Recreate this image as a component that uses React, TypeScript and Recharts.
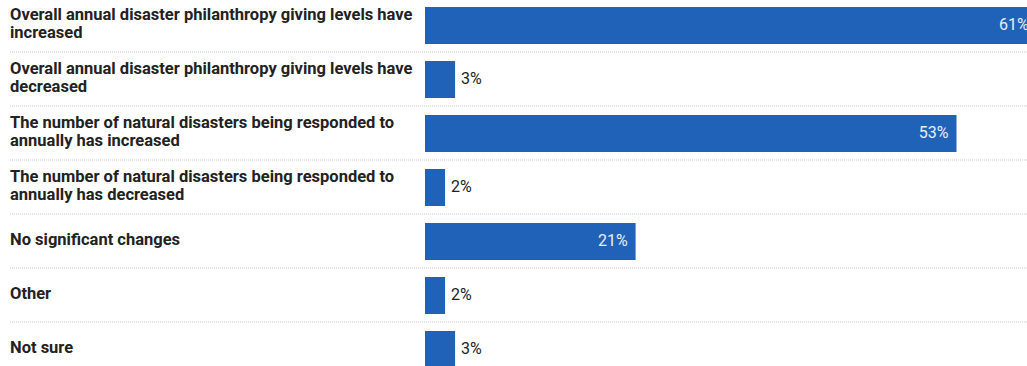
import { BarChart, Bar, XAxis, YAxis, LabelList } from 'recharts';

const categories = [
  'Overall annual disaster philanthropy giving levels have increased',
  'Overall annual disaster philanthropy giving levels have decreased',
  'The number of natural disasters being responded to annually has increased',
  'The number of natural disasters being responded to annually has decreased',
  'No significant changes',
  'Other',
  'Not sure',
];
const shares = [61, 3, 53, 2, 21, 2, 3];

const data = categories.map((name, i) => ({ name, value: shares[i] }));

const BAR_COLOR = '#2062b7';
const TEXT_COLOR = '#222';
const ROW_HEIGHT = 54;

// split a label into lines of about maxChars
function wrap(text: string, maxChars = 56) {
  const words = text.split(' ');
  const lines: string[] = [];
  let line = '';
  words.forEach((w) => {
    const next = line ? `${line} ${w}` : w;
    if (next.length > maxChars && line) {
      lines.push(line);
      line = w;
    } else {
      line = next;
    }
  });
  if (line) lines.push(line);
  return lines;
}

function CategoryTick(props: any) {
  const { y, payload } = props;
  const lines = wrap(payload.value);
  const start = y - ((lines.length - 1) * 18) / 2;
  return (
    <g>
      <text
        x={10}
        y={start}
        fill={TEXT_COLOR}
        fontSize={16.5}
        fontWeight={700}
        fontFamily="Roboto, sans-serif"
        dominantBaseline="middle"
      >
        {lines.map((l, i) => (
          <tspan key={i} x={10} y={start + i * 18}>
            {l}
          </tspan>
        ))}
      </text>
      <line
        x1={10}
        x2={1027}
        y1={y + ROW_HEIGHT / 2}
        y2={y + ROW_HEIGHT / 2}
        stroke="#c8c8c8"
        strokeWidth={1}
        strokeDasharray="1 1"
      />
    </g>
  );
}

function ValueLabel(props: any) {
  const { x, y, width, height, value } = props;
  const inside = value > 10;
  return (
    <text
      x={inside ? x + width - 8 : x + width + 6}
      y={y + height / 2}
      fill={inside ? '#e8eef8' : TEXT_COLOR}
      fontSize={16}
      fontFamily="Roboto, sans-serif"
      textAnchor={inside ? 'end' : 'start'}
      dominantBaseline="middle"
    >
      {`${value}%`}
    </text>
  );
}

export default function App() {
  return (
    <div
      style={{
        position: 'fixed',
        left: 0,
        top: 0,
        width: 1027,
        height: 366,
        overflow: 'hidden',
        background: '#fff',
      }}
    >
      <div style={{ marginTop: -2 }}>
        <BarChart
          layout="vertical"
          width={1127}
          height={ROW_HEIGHT * categories.length}
          data={data}
          margin={{ top: 0, right: 0, bottom: 0, left: 0 }}
        >
          <XAxis type="number" domain={[0, 70]} hide />
          <YAxis
            type="category"
            dataKey="name"
            width={425}
            axisLine={false}
            tickLine={false}
            tick={<CategoryTick />}
            interval={0}
          />
          <Bar dataKey="value" fill={BAR_COLOR} barSize={37} isAnimationActive={false}>
            <LabelList dataKey="value" content={<ValueLabel />} />
          </Bar>
        </BarChart>
      </div>
    </div>
  );
}
